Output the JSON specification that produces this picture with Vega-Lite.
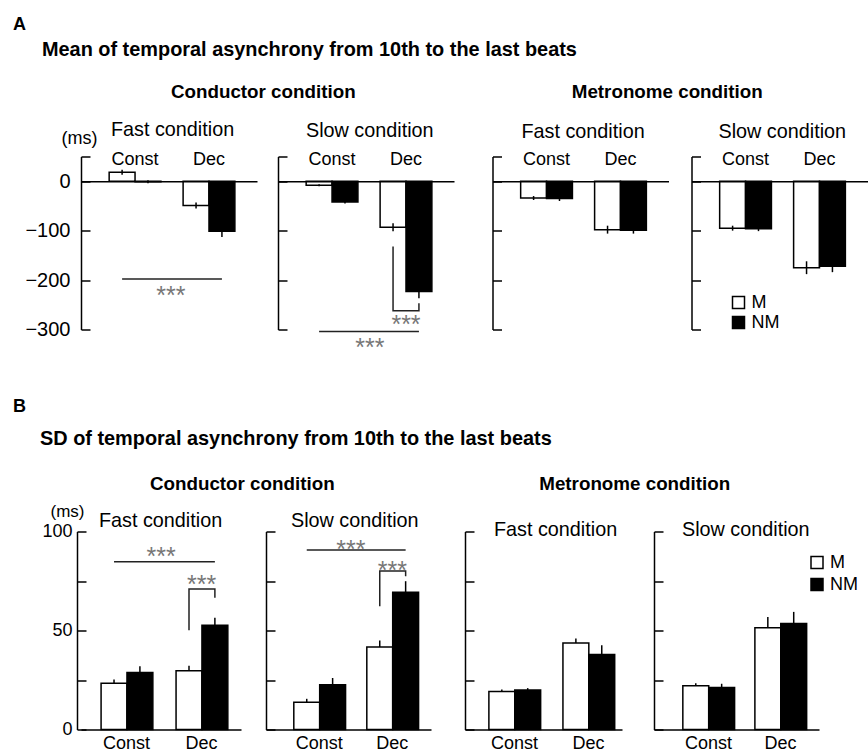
{
  "$schema": "https://vega.github.io/schema/vega-lite/v6.json",
  "padding": {"left": 12, "top": 15.5, "right": 0, "bottom": 0},
  "background": "white",
  "datasets": {
    "bars": [
      {"panel": "A-CF", "cond": "Const", "group": "M", "mean": 18, "lo": 13, "hi": 23},
      {"panel": "A-CF", "cond": "Const", "group": "NM", "mean": -1, "lo": -4, "hi": 2},
      {"panel": "A-CF", "cond": "Dec", "group": "M", "mean": -49, "lo": -55, "hi": -43},
      {"panel": "A-CF", "cond": "Dec", "group": "NM", "mean": -101, "lo": -113, "hi": -89},
      {"panel": "A-CS", "cond": "Const", "group": "M", "mean": -8, "lo": -10, "hi": -6},
      {"panel": "A-CS", "cond": "Const", "group": "NM", "mean": -42, "lo": -45, "hi": -39},
      {"panel": "A-CS", "cond": "Dec", "group": "M", "mean": -93, "lo": -101, "hi": -85},
      {"panel": "A-CS", "cond": "Dec", "group": "NM", "mean": -223, "lo": -237, "hi": -209},
      {"panel": "A-MF", "cond": "Const", "group": "M", "mean": -34, "lo": -38, "hi": -30},
      {"panel": "A-MF", "cond": "Const", "group": "NM", "mean": -35, "lo": -40, "hi": -30},
      {"panel": "A-MF", "cond": "Dec", "group": "M", "mean": -98, "lo": -106, "hi": -90},
      {"panel": "A-MF", "cond": "Dec", "group": "NM", "mean": -99, "lo": -106, "hi": -92},
      {"panel": "A-MS", "cond": "Const", "group": "M", "mean": -95, "lo": -100, "hi": -90},
      {"panel": "A-MS", "cond": "Const", "group": "NM", "mean": -96, "lo": -101, "hi": -91},
      {"panel": "A-MS", "cond": "Dec", "group": "M", "mean": -175, "lo": -188, "hi": -162},
      {"panel": "A-MS", "cond": "Dec", "group": "NM", "mean": -172, "lo": -184, "hi": -160},
      {"panel": "B-CF", "cond": "Const", "group": "M", "mean": 23.4, "lo": 23.4, "hi": 25.3},
      {"panel": "B-CF", "cond": "Const", "group": "NM", "mean": 28.8, "lo": 28.8, "hi": 31.9},
      {"panel": "B-CF", "cond": "Dec", "group": "M", "mean": 29.7, "lo": 29.7, "hi": 32.2},
      {"panel": "B-CF", "cond": "Dec", "group": "NM", "mean": 52.6, "lo": 52.6, "hi": 56.5},
      {"panel": "B-CS", "cond": "Const", "group": "M", "mean": 13.8, "lo": 13.8, "hi": 15.5},
      {"panel": "B-CS", "cond": "Const", "group": "NM", "mean": 22.6, "lo": 22.6, "hi": 26.0},
      {"panel": "B-CS", "cond": "Dec", "group": "M", "mean": 41.7, "lo": 41.7, "hi": 45.0},
      {"panel": "B-CS", "cond": "Dec", "group": "NM", "mean": 69.3, "lo": 69.3, "hi": 74.9},
      {"panel": "B-MF", "cond": "Const", "group": "M", "mean": 19.2, "lo": 19.2, "hi": 20.2},
      {"panel": "B-MF", "cond": "Const", "group": "NM", "mean": 19.9, "lo": 19.9, "hi": 20.9},
      {"panel": "B-MF", "cond": "Dec", "group": "M", "mean": 43.7, "lo": 43.7, "hi": 45.9},
      {"panel": "B-MF", "cond": "Dec", "group": "NM", "mean": 37.9, "lo": 37.9, "hi": 42.5},
      {"panel": "B-MS", "cond": "Const", "group": "M", "mean": 22.1, "lo": 22.1, "hi": 23.3},
      {"panel": "B-MS", "cond": "Const", "group": "NM", "mean": 21.2, "lo": 21.2, "hi": 23.1},
      {"panel": "B-MS", "cond": "Dec", "group": "M", "mean": 51.4, "lo": 51.4, "hi": 56.8},
      {"panel": "B-MS", "cond": "Dec", "group": "NM", "mean": 53.5, "lo": 53.5, "hi": 59.4}
    ],
    "sig": [
      {"panel": "A-CF", "id": "long", "cond": "Const", "group": "M", "y": -198, "k": 1},
      {"panel": "A-CF", "id": "long", "cond": "Dec", "group": "NM", "y": -198, "k": 2},
      {"panel": "A-CS", "id": "br", "cond": "Dec", "group": "M", "y": -132, "k": 1},
      {"panel": "A-CS", "id": "br", "cond": "Dec", "group": "M", "y": -262, "k": 2},
      {"panel": "A-CS", "id": "br", "cond": "Dec", "group": "NM", "y": -262, "k": 3},
      {"panel": "A-CS", "id": "br", "cond": "Dec", "group": "NM", "y": -247, "k": 4},
      {"panel": "A-CS", "id": "long", "cond": "Const", "group": "M", "y": -304, "k": 1},
      {"panel": "A-CS", "id": "long", "cond": "Dec", "group": "NM", "y": -304, "k": 2},
      {"panel": "B-CF", "id": "long", "cond": "Const", "group": "M", "y": 84.7, "k": 1},
      {"panel": "B-CF", "id": "long", "cond": "Dec", "group": "NM", "y": 84.7, "k": 2},
      {"panel": "B-CF", "id": "br", "cond": "Dec", "group": "M", "y": 50.1, "k": 1},
      {"panel": "B-CF", "id": "br", "cond": "Dec", "group": "M", "y": 71.0, "k": 2},
      {"panel": "B-CF", "id": "br", "cond": "Dec", "group": "NM", "y": 71.0, "k": 3},
      {"panel": "B-CF", "id": "br", "cond": "Dec", "group": "NM", "y": 66.6, "k": 4},
      {"panel": "B-CS", "id": "long", "cond": "Const", "group": "M", "y": 90.6, "k": 1},
      {"panel": "B-CS", "id": "long", "cond": "Dec", "group": "NM", "y": 90.6, "k": 2},
      {"panel": "B-CS", "id": "br", "cond": "Dec", "group": "M", "y": 62.2, "k": 1},
      {"panel": "B-CS", "id": "br", "cond": "Dec", "group": "M", "y": 80.1, "k": 2},
      {"panel": "B-CS", "id": "br", "cond": "Dec", "group": "NM", "y": 80.1, "k": 3},
      {"panel": "B-CS", "id": "br", "cond": "Dec", "group": "NM", "y": 77.4, "k": 4}
    ],
    "stars": [
      {"panel": "A-CF", "kind": "long", "cond": "Const", "y": -219, "label": "***"},
      {"panel": "A-CS", "kind": "br", "cond": "Dec", "y": -277, "label": "***"},
      {"panel": "A-CS", "kind": "long", "cond": "Const", "y": -324, "label": "***"},
      {"panel": "B-CF", "kind": "long", "cond": "Const", "y": 90.4, "label": "***"},
      {"panel": "B-CF", "kind": "br", "cond": "Dec", "y": 76.3, "label": "***"},
      {"panel": "B-CS", "kind": "long", "cond": "Const", "y": 94.2, "label": "***"},
      {"panel": "B-CS", "kind": "br", "cond": "Dec", "y": 83.3, "label": "***"}
    ]
  },
  "spacing": 36,
  "resolve": {"scale": {"fill": "independent"}},
  "vconcat": [
    {
      "title": {"text": "A", "anchor": "start", "fontSize": 18, "fontWeight": "bold", "offset": 6, "dx": -12},
      "resolve": {"scale": {"fill": "independent"}},
      "vconcat": [
        {
          "title": {"text": "Mean of temporal asynchrony from 10th to the last beats", "anchor": "start", "fontSize": 19.9, "fontWeight": "bold", "offset": 23, "dx": 17},
          "spacing": 37.5,
          "resolve": {"scale": {"fill": "independent"}},
          "hconcat": [
            {
              "title": {"text": "Conductor condition", "anchor": "start", "fontSize": 18.8, "fontWeight": "bold", "offset": 18, "dx": 146},
              "spacing": 20,
              "resolve": {"scale": {"fill": "independent"}},
              "hconcat": [
                {
                  "width": 176, "height": 173,
                  "title": {"text": "Fast condition", "anchor": "start", "frame": "group", "dx": 30, "offset": -9.9},
                  "layer": [
                    {
                      "data": {"name": "bars"},
                      "transform": [{"filter": "datum.panel == 'A-CF'"}],
                      "mark": {"type": "bar", "stroke": "black", "strokeWidth": 1.5},
                      "encoding": {
                        "x": {"field": "cond", "type": "nominal", "sort": ["Const", "Dec"], "scale": {"paddingInner": 0.3, "paddingOuter": 0.34, "align": 0.56},
                          "axis": {"orient": "top", "offset": -24.7, "ticks": false, "labelPadding": 13, "title": null, "labelAngle": 0, "zindex": 1}},
                        "xOffset": {"field": "group", "type": "nominal", "sort": ["M", "NM"], "scale": {"paddingInner": 0, "paddingOuter": 0}},
                        "y": {"field": "mean", "type": "quantitative", "scale": {"domain": [-300, 50], "nice": false},
                          "axis": {"values": [50, 0, -100, -200, -300], "labelExpr": "datum.value == 50 ? '' : datum.label", "labelPadding": 20, "labelFontSize": 20,
                            "title": "(ms)", "titleAngle": 0, "titleAlign": "left", "titleBaseline": "alphabetic", "titleX": -20, "titleY": -12.7}},
                        "y2": {"datum": 0},
                        "fill": {"field": "group", "type": "nominal", "scale": {"domain": ["M", "NM"], "range": ["white", "black"]}, "legend": null}
                      }
                    },
                    {
                      "data": {"name": "bars"},
                      "transform": [{"filter": "datum.panel == 'A-CF'"}],
                      "mark": {"type": "rule", "color": "black", "strokeWidth": 1.5},
                      "encoding": {
                        "x": {"field": "cond", "type": "nominal", "sort": ["Const", "Dec"]},
                        "xOffset": {"field": "group", "type": "nominal", "sort": ["M", "NM"]},
                        "y": {"field": "lo", "type": "quantitative"},
                        "y2": {"field": "hi"}
                      }
                    },
                    {
                      "data": {"name": "sig"},
                      "transform": [{"filter": "datum.panel == 'A-CF'"}],
                      "mark": {"type": "line", "color": "#222", "strokeWidth": 1.5, "clip": false},
                      "encoding": {
                        "x": {"field": "cond", "type": "nominal", "sort": ["Const", "Dec"]},
                        "xOffset": {"field": "group", "type": "nominal", "sort": ["M", "NM"]},
                        "y": {"field": "y", "type": "quantitative"},
                        "detail": {"field": "id"},
                        "order": {"field": "k"}
                      }
                    },
                    {
                      "data": {"name": "stars"},
                      "transform": [{"filter": "datum.panel == 'A-CF' && datum.kind == 'long'"}],
                      "mark": {"type": "text", "fontSize": 25, "color": "#777", "baseline": "alphabetic", "dy": 14.6, "dx": 10, "clip": false},
                      "encoding": {
                        "x": {"field": "cond", "type": "nominal", "sort": ["Const", "Dec"], "bandPosition": 1},
                        "y": {"field": "y", "type": "quantitative"},
                        "text": {"field": "label"}
                      }
                    }
                  ]
                },
                {
                  "width": 176, "height": 173,
                  "title": {"text": "Slow condition", "anchor": "start", "frame": "group", "dx": 28, "offset": 9.7},
                  "layer": [
                    {
                      "data": {"name": "bars"},
                      "transform": [{"filter": "datum.panel == 'A-CS'"}],
                      "mark": {"type": "bar", "stroke": "black", "strokeWidth": 1.5},
                      "encoding": {
                        "x": {"field": "cond", "type": "nominal", "sort": ["Const", "Dec"], "scale": {"paddingInner": 0.3, "paddingOuter": 0.34, "align": 0.56},
                          "axis": {"orient": "top", "offset": -24.7, "ticks": false, "labelPadding": 13, "title": null, "labelAngle": 0, "zindex": 1}},
                        "xOffset": {"field": "group", "type": "nominal", "sort": ["M", "NM"], "scale": {"paddingInner": 0, "paddingOuter": 0}},
                        "y": {"field": "mean", "type": "quantitative", "scale": {"domain": [-300, 50], "nice": false},
                          "axis": {"values": [50, 0, -100, -200, -300], "labels": false, "title": null}},
                        "y2": {"datum": 0},
                        "fill": {"field": "group", "type": "nominal", "scale": {"domain": ["M", "NM"], "range": ["white", "black"]}, "legend": null}
                      }
                    },
                    {
                      "data": {"name": "bars"},
                      "transform": [{"filter": "datum.panel == 'A-CS'"}],
                      "mark": {"type": "rule", "color": "black", "strokeWidth": 1.5},
                      "encoding": {
                        "x": {"field": "cond", "type": "nominal", "sort": ["Const", "Dec"]},
                        "xOffset": {"field": "group", "type": "nominal", "sort": ["M", "NM"]},
                        "y": {"field": "lo", "type": "quantitative"},
                        "y2": {"field": "hi"}
                      }
                    },
                    {
                      "data": {"name": "sig"},
                      "transform": [{"filter": "datum.panel == 'A-CS'"}],
                      "mark": {"type": "line", "color": "#222", "strokeWidth": 1.5, "clip": false},
                      "encoding": {
                        "x": {"field": "cond", "type": "nominal", "sort": ["Const", "Dec"]},
                        "xOffset": {"field": "group", "type": "nominal", "sort": ["M", "NM"]},
                        "y": {"field": "y", "type": "quantitative"},
                        "detail": {"field": "id"},
                        "order": {"field": "k"}
                      }
                    },
                    {
                      "data": {"name": "stars"},
                      "transform": [{"filter": "datum.panel == 'A-CS' && datum.kind == 'long'"}],
                      "mark": {"type": "text", "fontSize": 25, "color": "#777", "baseline": "alphabetic", "dy": 14.6, "dx": 12, "clip": false},
                      "encoding": {
                        "x": {"field": "cond", "type": "nominal", "sort": ["Const", "Dec"], "bandPosition": 1},
                        "y": {"field": "y", "type": "quantitative"},
                        "text": {"field": "label"}
                      }
                    },
                    {
                      "data": {"name": "stars"},
                      "transform": [{"filter": "datum.panel == 'A-CS' && datum.kind == 'br'"}],
                      "mark": {"type": "text", "fontSize": 25, "color": "#777", "baseline": "alphabetic", "dy": 14.6, "clip": false},
                      "encoding": {
                        "x": {"field": "cond", "type": "nominal", "sort": ["Const", "Dec"], "bandPosition": 0.5},
                        "y": {"field": "y", "type": "quantitative"},
                        "text": {"field": "label"}
                      }
                    }
                  ]
                }
              ]
            },
            {
              "title": {"text": "Metronome condition", "anchor": "start", "fontSize": 18.8, "fontWeight": "bold", "offset": 19.5, "dx": 80},
              "spacing": 22,
              "resolve": {"scale": {"fill": "independent"}},
              "hconcat": [
                {
                  "width": 176, "height": 173,
                  "title": {"text": "Fast condition", "anchor": "start", "frame": "group", "dx": 29, "offset": 8.7},
                  "layer": [
                    {
                      "data": {"name": "bars"},
                      "transform": [{"filter": "datum.panel == 'A-MF'"}],
                      "mark": {"type": "bar", "stroke": "black", "strokeWidth": 1.5},
                      "encoding": {
                        "x": {"field": "cond", "type": "nominal", "sort": ["Const", "Dec"], "scale": {"paddingInner": 0.3, "paddingOuter": 0.34, "align": 0.56},
                          "axis": {"orient": "top", "offset": -24.7, "ticks": false, "labelPadding": 13, "title": null, "labelAngle": 0, "zindex": 1}},
                        "xOffset": {"field": "group", "type": "nominal", "sort": ["M", "NM"], "scale": {"paddingInner": 0, "paddingOuter": 0}},
                        "y": {"field": "mean", "type": "quantitative", "scale": {"domain": [-300, 50], "nice": false},
                          "axis": {"values": [50, 0, -100, -200, -300], "labels": false, "title": null}},
                        "y2": {"datum": 0},
                        "fill": {"field": "group", "type": "nominal", "scale": {"domain": ["M", "NM"], "range": ["white", "black"]}, "legend": null}
                      }
                    },
                    {
                      "data": {"name": "bars"},
                      "transform": [{"filter": "datum.panel == 'A-MF'"}],
                      "mark": {"type": "rule", "color": "black", "strokeWidth": 1.5},
                      "encoding": {
                        "x": {"field": "cond", "type": "nominal", "sort": ["Const", "Dec"]},
                        "xOffset": {"field": "group", "type": "nominal", "sort": ["M", "NM"]},
                        "y": {"field": "lo", "type": "quantitative"},
                        "y2": {"field": "hi"}
                      }
                    }
                  ]
                },
                {
                  "width": 176, "height": 173,
                  "title": {"text": "Slow condition", "anchor": "start", "frame": "group", "dx": 27, "offset": 8.7},
                  "layer": [
                    {
                      "data": {"name": "bars"},
                      "transform": [{"filter": "datum.panel == 'A-MS'"}],
                      "mark": {"type": "bar", "stroke": "black", "strokeWidth": 1.5},
                      "encoding": {
                        "x": {"field": "cond", "type": "nominal", "sort": ["Const", "Dec"], "scale": {"paddingInner": 0.3, "paddingOuter": 0.34, "align": 0.56},
                          "axis": {"orient": "top", "offset": -24.7, "ticks": false, "labelPadding": 13, "title": null, "labelAngle": 0, "zindex": 1}},
                        "xOffset": {"field": "group", "type": "nominal", "sort": ["M", "NM"], "scale": {"paddingInner": 0, "paddingOuter": 0}},
                        "y": {"field": "mean", "type": "quantitative", "scale": {"domain": [-300, 50], "nice": false},
                          "axis": {"values": [50, 0, -100, -200, -300], "labels": false, "title": null}},
                        "y2": {"datum": 0},
                        "fill": {"field": "group", "type": "nominal", "scale": {"domain": ["M", "NM"], "range": ["white", "black"]},
                          "legend": {"orient": "none", "legendX": 38, "legendY": 137, "title": null, "rowPadding": 2}}
                      }
                    },
                    {
                      "data": {"name": "bars"},
                      "transform": [{"filter": "datum.panel == 'A-MS'"}],
                      "mark": {"type": "rule", "color": "black", "strokeWidth": 1.5},
                      "encoding": {
                        "x": {"field": "cond", "type": "nominal", "sort": ["Const", "Dec"]},
                        "xOffset": {"field": "group", "type": "nominal", "sort": ["M", "NM"]},
                        "y": {"field": "lo", "type": "quantitative"},
                        "y2": {"field": "hi"}
                      }
                    }
                  ]
                }
              ]
            }
          ]
        }
      ]
    },
    {
      "title": {"text": "B", "anchor": "start", "fontSize": 18, "fontWeight": "bold", "offset": 12.5, "dx": -27},
      "resolve": {"scale": {"fill": "independent"}},
      "vconcat": [
        {
          "title": {"text": "SD of temporal asynchrony from 10th to the last beats", "anchor": "start", "fontSize": 19.9, "fontWeight": "bold", "offset": 26, "dx": -2},
          "spacing": 33,
          "resolve": {"scale": {"fill": "independent"}},
          "hconcat": [
            {
              "title": {"text": "Conductor condition", "anchor": "start", "fontSize": 18.8, "fontWeight": "bold", "offset": 8.9, "dx": 108},
              "spacing": 24,
              "resolve": {"scale": {"fill": "independent"}},
              "hconcat": [
                {
                  "width": 160, "height": 198,
                  "title": {"text": "Fast condition", "anchor": "start", "frame": "group", "dx": 18, "offset": -28.1},
                  "layer": [
                    {
                      "data": {"name": "bars"},
                      "transform": [{"filter": "datum.panel == 'B-CF'"}],
                      "mark": {"type": "bar", "stroke": "black", "strokeWidth": 1.5},
                      "encoding": {
                        "x": {"field": "cond", "type": "nominal", "sort": ["Const", "Dec"], "scale": {"paddingInner": 0.32, "paddingOuter": 0.227, "align": 0.59},
                          "axis": {"orient": "bottom", "ticks": false, "labelPadding": 5, "title": null, "labelAngle": 0}},
                        "xOffset": {"field": "group", "type": "nominal", "sort": ["M", "NM"], "scale": {"paddingInner": 0, "paddingOuter": 0}},
                        "y": {"field": "mean", "type": "quantitative", "scale": {"domain": [0, 100], "nice": false},
                          "axis": {"values": [0, 25, 50, 75, 100], "labelExpr": "datum.value % 50 == 0 ? datum.label : ''", "labelPadding": 14, "offset": 4,
                            "title": "(ms)", "titleAngle": 0, "titleAlign": "left", "titleBaseline": "alphabetic", "titleX": -27, "titleY": -15, "titleFontSize": 17}},
                        "y2": {"datum": 0},
                        "fill": {"field": "group", "type": "nominal", "scale": {"domain": ["M", "NM"], "range": ["white", "black"]}, "legend": null}
                      }
                    },
                    {
                      "data": {"name": "bars"},
                      "transform": [{"filter": "datum.panel == 'B-CF'"}],
                      "mark": {"type": "rule", "color": "black", "strokeWidth": 1.5},
                      "encoding": {
                        "x": {"field": "cond", "type": "nominal", "sort": ["Const", "Dec"]},
                        "xOffset": {"field": "group", "type": "nominal", "sort": ["M", "NM"]},
                        "y": {"field": "lo", "type": "quantitative"},
                        "y2": {"field": "hi"}
                      }
                    },
                    {
                      "data": {"name": "sig"},
                      "transform": [{"filter": "datum.panel == 'B-CF'"}],
                      "mark": {"type": "line", "color": "#222", "strokeWidth": 1.5, "clip": false},
                      "encoding": {
                        "x": {"field": "cond", "type": "nominal", "sort": ["Const", "Dec"]},
                        "xOffset": {"field": "group", "type": "nominal", "sort": ["M", "NM"]},
                        "y": {"field": "y", "type": "quantitative"},
                        "detail": {"field": "id"},
                        "order": {"field": "k"}
                      }
                    },
                    {
                      "data": {"name": "stars"},
                      "transform": [{"filter": "datum.panel == 'B-CF' && datum.kind == 'long'"}],
                      "mark": {"type": "text", "fontSize": 25, "color": "#777", "baseline": "alphabetic", "dy": 14.6, "dx": 9, "clip": false},
                      "encoding": {
                        "x": {"field": "cond", "type": "nominal", "sort": ["Const", "Dec"], "bandPosition": 1},
                        "y": {"field": "y", "type": "quantitative"},
                        "text": {"field": "label"}
                      }
                    },
                    {
                      "data": {"name": "stars"},
                      "transform": [{"filter": "datum.panel == 'B-CF' && datum.kind == 'br'"}],
                      "mark": {"type": "text", "fontSize": 25, "color": "#777", "baseline": "alphabetic", "dy": 14.6, "clip": false},
                      "encoding": {
                        "x": {"field": "cond", "type": "nominal", "sort": ["Const", "Dec"], "bandPosition": 0.5},
                        "y": {"field": "y", "type": "quantitative"},
                        "text": {"field": "label"}
                      }
                    }
                  ]
                },
                {
                  "width": 165, "height": 198,
                  "title": {"text": "Slow condition", "anchor": "start", "frame": "group", "dx": 25, "offset": -0.5},
                  "layer": [
                    {
                      "data": {"name": "bars"},
                      "transform": [{"filter": "datum.panel == 'B-CS'"}],
                      "mark": {"type": "bar", "stroke": "black", "strokeWidth": 1.5},
                      "encoding": {
                        "x": {"field": "cond", "type": "nominal", "sort": ["Const", "Dec"], "scale": {"paddingInner": 0.3, "paddingOuter": 0.28, "align": 0.68},
                          "axis": {"orient": "bottom", "ticks": false, "labelPadding": 5, "title": null, "labelAngle": 0}},
                        "xOffset": {"field": "group", "type": "nominal", "sort": ["M", "NM"], "scale": {"paddingInner": 0, "paddingOuter": 0}},
                        "y": {"field": "mean", "type": "quantitative", "scale": {"domain": [0, 100], "nice": false},
                          "axis": {"values": [0, 25, 50, 75, 100], "labels": false, "title": null}},
                        "y2": {"datum": 0},
                        "fill": {"field": "group", "type": "nominal", "scale": {"domain": ["M", "NM"], "range": ["white", "black"]}, "legend": null}
                      }
                    },
                    {
                      "data": {"name": "bars"},
                      "transform": [{"filter": "datum.panel == 'B-CS'"}],
                      "mark": {"type": "rule", "color": "black", "strokeWidth": 1.5},
                      "encoding": {
                        "x": {"field": "cond", "type": "nominal", "sort": ["Const", "Dec"]},
                        "xOffset": {"field": "group", "type": "nominal", "sort": ["M", "NM"]},
                        "y": {"field": "lo", "type": "quantitative"},
                        "y2": {"field": "hi"}
                      }
                    },
                    {
                      "data": {"name": "sig"},
                      "transform": [{"filter": "datum.panel == 'B-CS'"}],
                      "mark": {"type": "line", "color": "#222", "strokeWidth": 1.5, "clip": false},
                      "encoding": {
                        "x": {"field": "cond", "type": "nominal", "sort": ["Const", "Dec"]},
                        "xOffset": {"field": "group", "type": "nominal", "sort": ["M", "NM"]},
                        "y": {"field": "y", "type": "quantitative"},
                        "detail": {"field": "id"},
                        "order": {"field": "k"}
                      }
                    },
                    {
                      "data": {"name": "stars"},
                      "transform": [{"filter": "datum.panel == 'B-CS' && datum.kind == 'long'"}],
                      "mark": {"type": "text", "fontSize": 25, "color": "#777", "baseline": "alphabetic", "dy": 14.6, "dx": 6, "clip": false},
                      "encoding": {
                        "x": {"field": "cond", "type": "nominal", "sort": ["Const", "Dec"], "bandPosition": 1},
                        "y": {"field": "y", "type": "quantitative"},
                        "text": {"field": "label"}
                      }
                    },
                    {
                      "data": {"name": "stars"},
                      "transform": [{"filter": "datum.panel == 'B-CS' && datum.kind == 'br'"}],
                      "mark": {"type": "text", "fontSize": 25, "color": "#777", "baseline": "alphabetic", "dy": 14.6, "clip": false},
                      "encoding": {
                        "x": {"field": "cond", "type": "nominal", "sort": ["Const", "Dec"], "bandPosition": 0.5},
                        "y": {"field": "y", "type": "quantitative"},
                        "text": {"field": "label"}
                      }
                    }
                  ]
                }
              ]
            },
            {
              "title": {"text": "Metronome condition", "anchor": "start", "fontSize": 18.8, "fontWeight": "bold", "offset": 27, "dx": 75},
              "spacing": 31,
              "resolve": {"scale": {"fill": "independent"}},
              "hconcat": [
                {
                  "width": 157, "height": 198,
                  "title": {"text": "Fast condition", "anchor": "start", "frame": "group", "dx": 29, "offset": -9.5},
                  "layer": [
                    {
                      "data": {"name": "bars"},
                      "transform": [{"filter": "datum.panel == 'B-MF'"}],
                      "mark": {"type": "bar", "stroke": "black", "strokeWidth": 1.5},
                      "encoding": {
                        "x": {"field": "cond", "type": "nominal", "sort": ["Const", "Dec"], "scale": {"paddingInner": 0.31, "paddingOuter": 0.215, "align": 0.75},
                          "axis": {"orient": "bottom", "ticks": false, "labelPadding": 5, "title": null, "labelAngle": 0}},
                        "xOffset": {"field": "group", "type": "nominal", "sort": ["M", "NM"], "scale": {"paddingInner": 0, "paddingOuter": 0}},
                        "y": {"field": "mean", "type": "quantitative", "scale": {"domain": [0, 100], "nice": false},
                          "axis": {"values": [0, 25, 50, 75, 100], "labels": false, "title": null}},
                        "y2": {"datum": 0},
                        "fill": {"field": "group", "type": "nominal", "scale": {"domain": ["M", "NM"], "range": ["white", "black"]}, "legend": null}
                      }
                    },
                    {
                      "data": {"name": "bars"},
                      "transform": [{"filter": "datum.panel == 'B-MF'"}],
                      "mark": {"type": "rule", "color": "black", "strokeWidth": 1.5},
                      "encoding": {
                        "x": {"field": "cond", "type": "nominal", "sort": ["Const", "Dec"]},
                        "xOffset": {"field": "group", "type": "nominal", "sort": ["M", "NM"]},
                        "y": {"field": "lo", "type": "quantitative"},
                        "y2": {"field": "hi"}
                      }
                    }
                  ]
                },
                {
                  "width": 165, "height": 198,
                  "title": {"text": "Slow condition", "anchor": "start", "frame": "group", "dx": 28, "offset": -9.5},
                  "layer": [
                    {
                      "data": {"name": "bars"},
                      "transform": [{"filter": "datum.panel == 'B-MS'"}],
                      "mark": {"type": "bar", "stroke": "black", "strokeWidth": 1.5},
                      "encoding": {
                        "x": {"field": "cond", "type": "nominal", "sort": ["Const", "Dec"], "scale": {"paddingInner": 0.29, "paddingOuter": 0.29, "align": 0.69},
                          "axis": {"orient": "bottom", "ticks": false, "labelPadding": 5, "title": null, "labelAngle": 0}},
                        "xOffset": {"field": "group", "type": "nominal", "sort": ["M", "NM"], "scale": {"paddingInner": 0, "paddingOuter": 0}},
                        "y": {"field": "mean", "type": "quantitative", "scale": {"domain": [0, 100], "nice": false},
                          "axis": {"values": [0, 25, 50, 75, 100], "labels": false, "title": null}},
                        "y2": {"datum": 0},
                        "fill": {"field": "group", "type": "nominal", "scale": {"domain": ["M", "NM"], "range": ["white", "black"]},
                          "legend": {"orient": "none", "legendX": 154, "legendY": 22, "title": null, "rowPadding": 4}}
                      }
                    },
                    {
                      "data": {"name": "bars"},
                      "transform": [{"filter": "datum.panel == 'B-MS'"}],
                      "mark": {"type": "rule", "color": "black", "strokeWidth": 1.5},
                      "encoding": {
                        "x": {"field": "cond", "type": "nominal", "sort": ["Const", "Dec"]},
                        "xOffset": {"field": "group", "type": "nominal", "sort": ["M", "NM"]},
                        "y": {"field": "lo", "type": "quantitative"},
                        "y2": {"field": "hi"}
                      }
                    }
                  ]
                }
              ]
            }
          ]
        }
      ]
    }
  ],
  "config": {
    "font": "Liberation Sans",
    "view": {"stroke": null},
    "axis": {
      "domainColor": "black", "domainWidth": 1.5, "tickColor": "black", "tickWidth": 1.5, "tickSize": -9,
      "grid": false, "labelColor": "black", "labelFontSize": 18, "labelFont": "Liberation Sans",
      "titleColor": "black", "titleFontWeight": "normal", "titleFontSize": 18, "titleFont": "Liberation Sans"
    },
    "title": {"color": "black", "baseline": "alphabetic", "fontWeight": "normal", "fontSize": 19.8, "font": "Liberation Sans"},
    "legend": {
      "labelFontSize": 18, "labelColor": "black", "labelFont": "Liberation Sans", "symbolType": "square", "symbolSize": 144,
      "symbolStrokeColor": "black", "symbolStrokeWidth": 1.5, "padding": 0, "labelOffset": 4
    }
  }
}
